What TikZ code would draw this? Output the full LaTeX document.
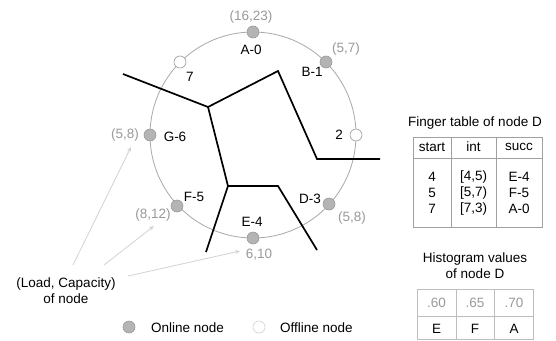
\documentclass[tikz,border=0pt]{standalone}
\usepackage{fontspec}
\setmainfont{Liberation Sans}
\usetikzlibrary{arrows.meta}
\definecolor{ringgray}{HTML}{A8A8A8}
\definecolor{dotfill}{HTML}{B4B4B4}
\definecolor{dotdraw}{HTML}{9A9A9A}
\definecolor{valgray}{HTML}{999999}
\definecolor{arrgray}{HTML}{D2D2D2}
\definecolor{tabgray}{HTML}{A0A0A0}
\begin{document}
\begin{tikzpicture}[x=1pt,y=-1pt,
  font=\fontsize{13.5}{16}\selectfont,
  online/.style={circle,minimum size=12pt,inner sep=0pt,fill=dotfill,draw=dotdraw,line width=0.6pt},
  offline/.style={circle,minimum size=12pt,inner sep=0pt,fill=white,draw=dotdraw,line width=0.6pt},
  lbl/.style={inner sep=0pt,text=black},
  val/.style={inner sep=0pt,text=valgray},
  ring/.style={draw=ringgray,line width=0.8pt},
  wall/.style={draw=black,line width=1.7pt,line join=miter},
  hint/.style={draw=arrgray,line width=0.8pt,-{Stealth[length=5pt,width=4pt]}},
  tabline/.style={draw=tabgray,line width=0.7pt},
  histline/.style={draw=arrgray!90!black,line width=0.7pt}]
\useasboundingbox (0,0) rectangle (556,340);

% ring
\draw[ring] (253,135) circle[radius=103];

% partition lines
\coordinate (p1) at (123,74);
\coordinate (j1) at (208,107);
\coordinate (p2) at (278,71);
\coordinate (p3) at (317,159);
\coordinate (p4) at (380,159);
\coordinate (j2) at (228,186);
\coordinate (p5) at (278,186);
\coordinate (p6) at (317,250);
\coordinate (p7) at (206,252);
\draw[wall] (p1) -- (j1) -- (p2) -- (p3) -- (p4);
\draw[wall] (j1) -- (j2) -- (p5) -- (p6);
\draw[wall] (j2) -- (p7);

% ring nodes
\node[online]  (A) at (253,32) {};
\node[online]  (B) at (326,62) {};
\node[offline] (N2) at (356,135) {};
\node[online]  (D) at (329,204) {};
\node[online]  (E) at (253,238) {};
\node[online]  (F) at (177,206) {};
\node[online]  (G) at (150,135) {};
\node[offline] (N7) at (180,62) {};

% labels
\node[val] (Av) at (251,17) {(16,23)};
\node[lbl] (Al) at (251,50) {A-0};
\node[val] (Bv) at (346,49) {(5,7)};
\node[lbl] (Bl) at (312,72) {B-1};
\node[lbl] (N7l) at (190,77) {7};
\node[lbl] (N2l) at (339,135) {2};
\node[val] (Gv) at (125,135) {(5,8)};
\node[lbl] (Gl) at (175,137) {G-6};
\node[lbl] (Fl) at (194,197) {F-5};
\node[val] (Fv) at (153,215) {(8,12)};
\node[lbl] (El) at (252,222) {E-4};
\node[val] (Ev) at (259,255) {6,10};
\node[lbl] (Dl) at (310,199) {D-3};
\node[val] (Dv) at (352,218) {(5,8)};

% load/capacity hint
\node[lbl,align=center] (lc) at (66,291) {(Load, Capacity)\\of node};
\coordinate (h1s) at (73,265);
\coordinate (h1e) at (131,147);
\coordinate (h2s) at (104,265);
\coordinate (h2e) at (154,226);
\coordinate (h3s) at (128,276);
\coordinate (h3e) at (240,251);
\draw[hint] (h1s) -- (h1e);
\draw[hint] (h2s) -- (h2e);
\draw[hint] (h3s) -- (h3e);

% legend
\node[online]  (lon) at (129,327) {};
\node[lbl,anchor=west] (lont) at (151,328) {Online node};
\node[offline,draw=arrgray] (loff) at (259,327) {};
\node[lbl,anchor=west] (lofft) at (280,328) {Offline node};

% finger table
\node[lbl] (ftt) at (475,123) {Finger table of node D};
\draw[tabline] (413,137) rectangle (542,227);
\draw[tabline] (413,158) -- (542,158);
\draw[tabline] (451,137) -- (451,227);
\draw[tabline] (496,137) -- (496,227);
\node[lbl] (h1) at (432,147) {start};
\node[lbl] (h2) at (473.5,147) {int};
\node[lbl] (h3) at (519,147) {succ};
\node[lbl] (r11) at (432,177) {4};
\node[lbl] (r12) at (473.5,177) {[4,5)};
\node[lbl] (r13) at (519,177) {E-4};
\node[lbl] (r21) at (432,193) {5};
\node[lbl] (r22) at (473.5,193) {[5,7)};
\node[lbl] (r23) at (519,193) {F-5};
\node[lbl] (r31) at (432,209) {7};
\node[lbl] (r32) at (473.5,209) {[7,3)};
\node[lbl] (r33) at (519,209) {A-0};

% histogram
\node[lbl,align=center] (hvt) at (475,266) {Histogram values\\of node D};
\draw[histline] (417,289.5) rectangle (533,339.5);
\draw[histline] (417,316) -- (533,316);
\draw[histline] (456,289.5) -- (456,339.5);
\draw[histline] (494.5,289.5) -- (494.5,339.5);
\node[val] (v1) at (436.5,303) {.60};
\node[val] (v2) at (475,303) {.65};
\node[val] (v3) at (514,303) {.70};
\node[lbl] (c1) at (436.5,329) {E};
\node[lbl] (c2) at (475,329) {F};
\node[lbl] (c3) at (514,329) {A};
\end{tikzpicture}
\end{document}
